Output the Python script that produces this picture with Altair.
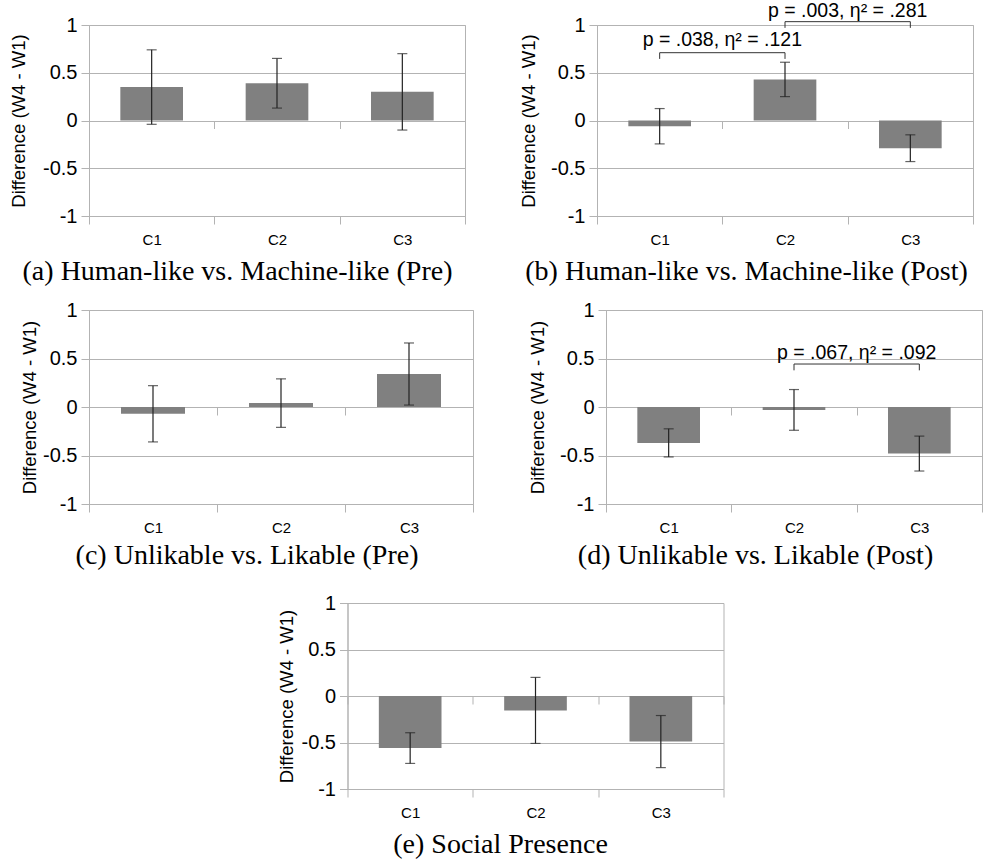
import altair as alt
import pandas as pd

CONDITIONS = ["C1", "C2", "C3"]

# Mean change (W4 - W1) per condition and the half-width of its error bar
hm_pre_mean = [0.35, 0.39, 0.30]
hm_pre_err = [0.39, 0.26, 0.40]
hm_post_mean = [-0.06, 0.43, -0.29]
hm_post_err = [0.185, 0.18, 0.14]
ul_pre_mean = [-0.07, 0.04, 0.34]
ul_pre_err = [0.29, 0.25, 0.32]
ul_post_mean = [-0.37, -0.03, -0.48]
ul_post_err = [0.145, 0.21, 0.18]
sp_mean = [-0.56, -0.155, -0.49]
sp_err = [0.165, 0.355, 0.28]

# Pairwise comparisons shown as brackets
hm_post_pairs_from = ["C1", "C2"]
hm_post_pairs_to = ["C2", "C3"]
hm_post_pairs_text = ["p = .038, η² = .121", "p = .003, η² = .281"]
ul_post_pairs_from = ["C2"]
ul_post_pairs_to = ["C3"]
ul_post_pairs_text = ["p = .067, η² = .092"]

GRID = "#b3b3b3"
SANS = "Liberation Sans"
SERIF = "Liberation Serif"
Y_TITLE = "Difference (W4 - W1)"


def panel(mean, err, caption, width, height, title_pad=12, caption_offset=11,
          pairs=None, bracket_y=None, label_y=None):
    df = pd.DataFrame({"cond": CONDITIONS, "mean": mean, "err": err})
    df["lo"] = df["mean"] - df["err"]
    df["hi"] = df["mean"] + df["err"]

    xs = alt.Scale(type="band", domain=CONDITIONS, paddingInner=0, paddingOuter=0)
    ys = alt.Scale(domain=[-1, 1], nice=False)

    bottom_axis = alt.Axis(
        orient="bottom", tickBand="extent", tickSize=8, tickColor=GRID,
        domainColor=GRID, labelFont=SANS, labelFontSize=15, labelColor="black",
        labelPadding=8, labelAngle=0, grid=False,
    )
    # ticks hanging below the zero line, at the category boundaries
    zero_axis = alt.Axis(
        orient="bottom", offset=-height / 2, tickBand="extent", tickSize=8,
        tickColor=GRID, domain=False, labels=False, grid=False,
    )
    y_axis = alt.Axis(
        values=[-1, -0.5, 0, 0.5, 1], labelExpr="'' + datum.value",
        labelFont=SANS, labelFontSize=20, labelColor="black", labelPadding=4,
        tickSize=8, tickColor=GRID, domainColor=GRID, gridColor=GRID,
        titleFont=SANS, titleFontSize=18.5, titleFontWeight="normal",
        titleColor="black", titlePadding=title_pad,
    )

    base = alt.Chart(df)
    bars = base.mark_bar(color="#808080", width=alt.RelativeBandSize(0.5)).encode(
        x=alt.X("cond:N", scale=xs, axis=bottom_axis, title=None, sort=CONDITIONS),
        y=alt.Y("mean:Q", scale=ys, axis=y_axis, title=Y_TITLE),
    )
    whisker = base.mark_rule(color="#222222", strokeWidth=1.2).encode(
        x=alt.X("cond:N", scale=xs, axis=zero_axis, title=None, sort=CONDITIONS),
        y=alt.Y("lo:Q", scale=ys),
        y2="hi:Q",
    )
    cap_lo = base.mark_tick(color="#222222", size=10, thickness=1.2).encode(
        x=alt.X("cond:N", scale=xs, axis=None, sort=CONDITIONS),
        y=alt.Y("lo:Q", scale=ys),
    )
    cap_hi = base.mark_tick(color="#222222", size=10, thickness=1.2).encode(
        x=alt.X("cond:N", scale=xs, axis=None, sort=CONDITIONS),
        y=alt.Y("hi:Q", scale=ys),
    )
    layers = [bars, whisker, cap_lo, cap_hi]

    if pairs is not None:
        a, b, text = pairs
        pdf = pd.DataFrame({"a": a, "b": b, "label": text})
        pdf["level"] = bracket_y
        pdf["foot"] = [v - 0.065 for v in bracket_y]
        pdf["ty"] = label_y
        pb = alt.Chart(pdf)
        bar_line = pb.mark_rule(color="#333333", strokeWidth=1).encode(
            x=alt.X("a:N", scale=xs, axis=None, sort=CONDITIONS),
            x2="b:N",
            y=alt.Y("level:Q", scale=ys),
        )
        foot_a = pb.mark_rule(color="#333333", strokeWidth=1).encode(
            x=alt.X("a:N", scale=xs, axis=None, sort=CONDITIONS),
            y=alt.Y("level:Q", scale=ys),
            y2="foot:Q",
        )
        foot_b = pb.mark_rule(color="#333333", strokeWidth=1).encode(
            x=alt.X("b:N", scale=xs, axis=None, sort=CONDITIONS),
            y=alt.Y("level:Q", scale=ys),
            y2="foot:Q",
        )
        label = pb.mark_text(font=SANS, fontSize=19.5, color="black",
                             baseline="alphabetic", align="center").encode(
            x=alt.X("a:N", scale=xs, axis=None, sort=CONDITIONS, bandPosition=1),
            y=alt.Y("ty:Q", scale=ys),
            text="label:N",
        )
        layers += [bar_line, foot_a, foot_b, label]

    return alt.layer(*layers).resolve_axis(x="independent").properties(
        width=width,
        height=height,
        title=alt.TitleParams(
            caption, orient="bottom", font=SERIF, fontSize=28,
            fontWeight="normal", color="black", offset=caption_offset,
            frame="bounds", anchor="middle",
        ),
    )


pa = panel(hm_pre_mean, hm_pre_err, "(a) Human-like vs. Machine-like (Pre)", 376, 191,
           title_pad=14)
pb_ = panel(hm_post_mean, hm_post_err, "(b) Human-like vs. Machine-like (Post)", 376, 191,
            pairs=(hm_post_pairs_from, hm_post_pairs_to, hm_post_pairs_text),
            bracket_y=[0.71, 1.035], label_y=[0.775, 1.08])
pc = panel(ul_pre_mean, ul_pre_err, "(c) Unlikable vs. Likable (Pre)", 384, 194,
           title_pad=3, caption_offset=7)
pd_ = panel(ul_post_mean, ul_post_err, "(d) Unlikable vs. Likable (Post)", 376, 194,
            caption_offset=7,
            pairs=(ul_post_pairs_from, ul_post_pairs_to, ul_post_pairs_text),
            bracket_y=[0.443], label_y=[0.49])
pe = panel(sp_mean, sp_err, "(e) Social Presence", 376, 186, title_pad=5)

row1 = alt.hconcat(pa, pb_, spacing=132, bounds="flush")
row2 = alt.hconcat(pc, pd_, spacing=133, bounds="flush")
top_rows = alt.vconcat(row1, row2, spacing=12)

chart = alt.vconcat(top_rows, pe, spacing=21, center=True).properties(
    padding={"left": 9, "top": 0, "right": 5, "bottom": 5},
    background="white",
).configure_view(stroke=GRID, strokeWidth=1)

chart.save("out.html", embed_options={"renderer": "svg", "actions": False})
